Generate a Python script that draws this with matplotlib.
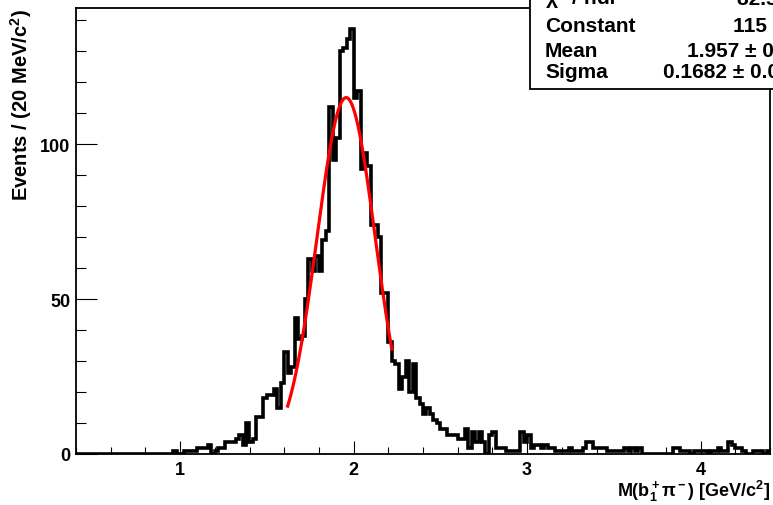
import numpy as np
import matplotlib
matplotlib.use("Agg")
import matplotlib.pyplot as plt
from matplotlib.patches import Rectangle
from matplotlib.ticker import MultipleLocator

plt.rcParams['font.family'] = ['Liberation Sans', 'DejaVu Sans']
plt.rcParams['font.weight'] = 'bold'
plt.rcParams['mathtext.fontset'] = 'custom'
plt.rcParams['mathtext.rm'] = 'Liberation Sans:bold'
plt.rcParams['mathtext.it'] = 'Liberation Sans:bold'
plt.rcParams['mathtext.bf'] = 'Liberation Sans:bold'
plt.rcParams['mathtext.default'] = 'rm'

# histogram: 200 bins of 20 MeV from 0.4 to 4.4 GeV
x_lo, x_hi, n_bins = 0.4, 4.4, 200
counts = [0] * 28 + [
    1, 0, 0, 1, 1, 1, 1, 2, 2, 2,            # 28-37
    3, 0, 1, 2, 2, 4, 4, 4, 5, 6,            # 38-47
    3, 10, 4, 5, 12, 12, 18, 19, 19, 21,     # 48-57
    15, 23, 33, 26, 28, 44, 37, 38, 50, 63,  # 58-67
    59, 64, 59, 69, 72, 112, 95, 102, 130, 131,  # 68-77
    134, 137, 115, 117, 92, 97, 93, 74, 74, 70,  # 78-87
    52, 52, 36, 30, 29, 21, 25, 30, 20, 29,  # 88-97
    18, 16, 13, 15, 13, 11, 10, 8, 8, 6,     # 98-107
    6, 6, 5, 5, 8, 2, 7, 4, 7, 4,            # 108-117
    0, 6, 7, 2, 2, 2, 1, 1, 1, 1,            # 118-127
    7, 4, 6, 2, 3, 3, 2, 3, 2, 2,            # 128-137
    1, 1, 1, 1, 2, 1, 1, 1, 2, 4,            # 138-147
    4, 2, 2, 2, 2, 1, 1, 1, 1, 1,            # 148-157
    2, 1, 2, 1, 2, 0, 0, 0, 0, 0,            # 158-167
    0, 0, 0, 0, 2, 2, 1, 1, 1, 0,            # 168-177
    1, 1, 1, 1, 0, 1, 1, 2, 1, 1,            # 178-187
    4, 3, 2, 2, 1, 0, 0, 1, 1, 1,            # 188-197
    0, 1,                                    # 198-199
]
edges = np.linspace(x_lo, x_hi, n_bins + 1)

# gaussian fit result
fit_const, fit_mean, fit_sigma = 115.0, 1.957, 0.1682
fit_range = (1.62, 2.22)

stat_names = ["\u03c7$^2$ / ndf", "Constant", "Mean", "Sigma"]
stat_values = ["82.5 / 27", "115 \u00b1 4.8", "1.957 \u00b1 0.005", "0.1682 \u00b1 0.0046"]

W, H = 773, 506
fig = plt.figure(figsize=(W / 100, H / 100), dpi=100)
ax = fig.add_axes([76 / W, 51 / H, 694 / W, 446 / H])

ax.stairs(counts, edges, color='black', linewidth=2.6, baseline=0)

xf = np.linspace(fit_range[0], fit_range[1], 200)
ax.plot(xf, fit_const * np.exp(-0.5 * ((xf - fit_mean) / fit_sigma) ** 2),
        color='#ff0000', linewidth=2.3)

ax.set_xlim(x_lo, x_hi)
ax.set_ylim(0, 143.9)
ax.xaxis.set_major_locator(MultipleLocator(1))
ax.xaxis.set_minor_locator(MultipleLocator(0.2))
ax.yaxis.set_major_locator(MultipleLocator(50))
ax.yaxis.set_minor_locator(MultipleLocator(10))
ax.tick_params(which='both', direction='in', top=False, right=False, width=0.8,
               labelsize=13)
ax.tick_params(axis='x', which='major', length=9.5, pad=5)
ax.tick_params(axis='x', which='minor', length=4.8)
ax.tick_params(axis='y', which='major', length=15, pad=4)
ax.tick_params(axis='y', which='minor', length=7.5)
for s in ax.spines.values():
    s.set_linewidth(1.3)

ax.set_xlabel("M(b$_1^+$\u03c0$^-$) [GeV/c$^2$]", fontsize=13, fontweight='bold', loc='right')
ax.xaxis.set_label_coords(1.0, -0.053)
ax.set_ylabel("Events / (20 MeV/c$^2$)", fontsize=14.5, fontweight='bold', loc='top')
ax.yaxis.set_label_coords(-0.06, 1.0)

# stats box (partly outside the canvas)
fig.patches.append(Rectangle((530 / W, 1 - 90 / H), 0.5, 0.5, transform=fig.transFigure,
                             facecolor='white', edgecolor='black', linewidth=1.3,
                             zorder=5))
name_x = 545 / W
value_x = [737 / W, 733 / W, 687 / W, 663 / W]
baselines = [5, 32, 57, 78]
for name, val, vx, b in zip(stat_names, stat_values, value_x, baselines):
    fig.text(name_x, 1 - b / H, name, fontsize=15, fontweight='bold', va='baseline',
             ha='left', zorder=6)
    fig.text(vx, 1 - b / H, val, fontsize=15, fontweight='bold', va='baseline',
             ha='left', zorder=6)

fig.savefig("out.png", dpi=100)
